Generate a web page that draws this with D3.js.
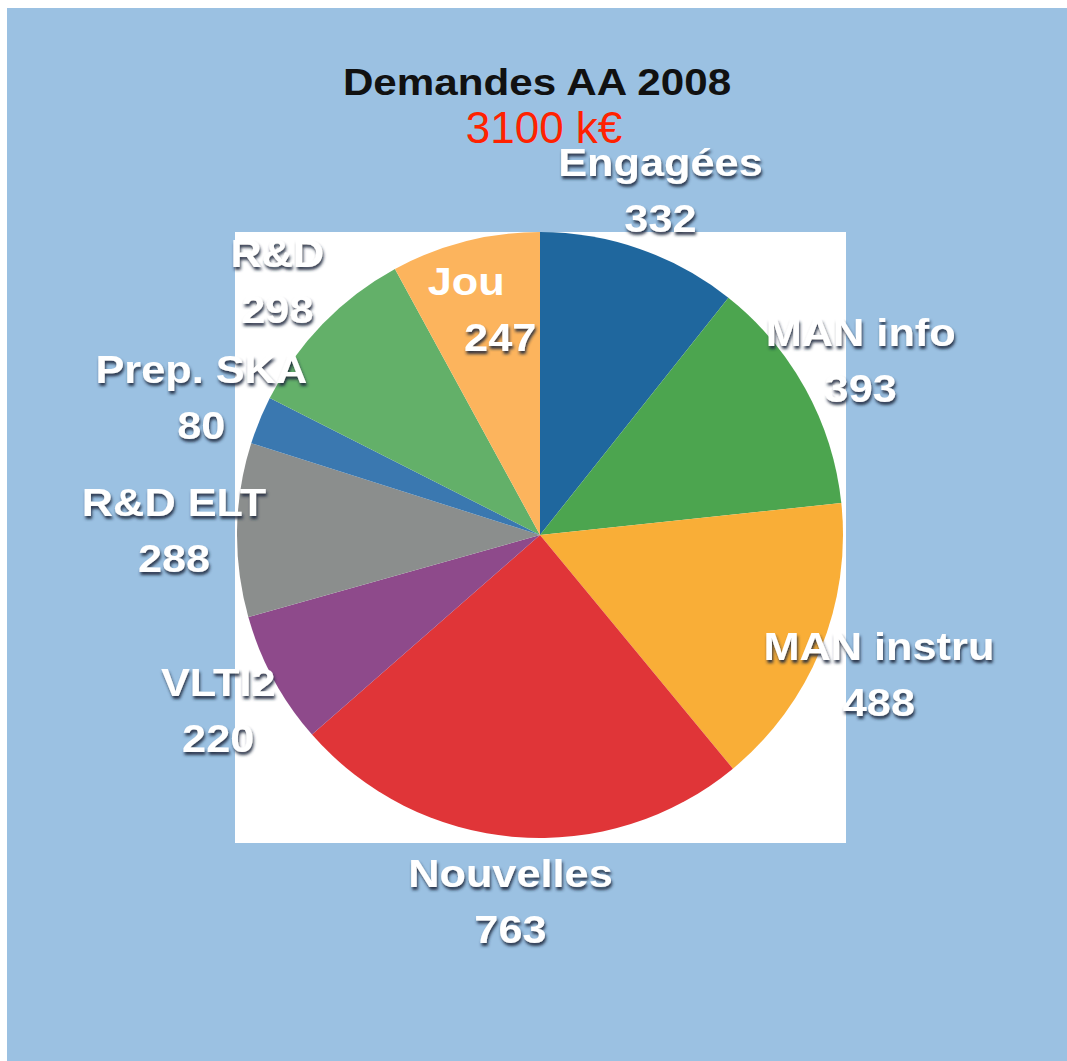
<!doctype html>
<html lang="fr">
<head>
  <meta charset="utf-8">
  <title>Demandes AA 2008</title>
  <script src="https://cdn.jsdelivr.net/npm/d3@7"></script>
  <style>
    body { margin: 0; background: #fff; }
    text { font-family: "Liberation Sans", Arial, Helvetica, sans-serif; }
  </style>
</head>
<body>
  <svg id="chart" width="1067" height="1061"></svg>
  <script>
    // data, clockwise from 12 o'clock
    const names = ["Engagées", "MAN info", "MAN instru", "Nouvelles", "VLTI2", "R&D ELT", "Prep. SKA", "R&D", "Jou"];
    const amounts = [332, 393, 488, 763, 220, 288, 80, 298, 247];
    const sliceColors = ["#1f679e", "#4ca54f", "#f9ae37", "#e03538", "#8e4a8b", "#8b8e8d", "#3a78b0", "#63b069", "#fcb45d"];
    const title = "Demandes AA 2008";
    const subtitle = "3100 k€";
    const insideLabels = ["Jou"]; // this one sits inside its slice

    const W = 1067, H = 1061;
    const cx = 540, cy = 535, radius = 303;
    const stretch = 1.14; // the source font is wide

    const svg = d3.select("#chart");

    // drop shadow for the white labels
    const f = svg.append("defs").append("filter").attr("id", "shadow")
      .attr("x", "-20%").attr("y", "-30%").attr("width", "140%").attr("height", "170%");
    f.append("feDropShadow").attr("dx", 1).attr("dy", 3).attr("stdDeviation", 1.6)
      .attr("flood-color", "#1b2a3c").attr("flood-opacity", 0.9);

    svg.append("rect").attr("x", 7).attr("y", 8).attr("width", W - 7).attr("height", H - 8)
      .attr("fill", "#9bc1e2");

    // white square behind the pie
    svg.append("rect")
      .attr("x", cx - radius - 2).attr("y", cy - radius)
      .attr("width", 2 * radius + 5).attr("height", 2 * radius + 5)
      .attr("fill", "#fff");

    const data = names.map((n, i) => ({name: n, value: amounts[i], color: sliceColors[i]}));
    const pie = d3.pie().sort(null).value(d => d.value);
    const arcs = pie(data);

    const arc = d3.arc().innerRadius(0).outerRadius(radius);
    const outerLabel = d3.arc().innerRadius(366).outerRadius(366);
    const innerLabel = d3.arc().innerRadius(234).outerRadius(234);

    const g = svg.append("g").attr("transform", `translate(${cx},${cy})`);
    g.selectAll("path").data(arcs).enter().append("path")
      .attr("d", arc)
      .attr("fill", d => d.data.color);

    const isInside = d => insideLabels.includes(d.data.name);

    const labels = g.selectAll("g.lab").data(arcs).enter().append("g")
      .attr("class", "lab")
      .attr("transform", d => {
        const p = (isInside(d) ? innerLabel : outerLabel).centroid(d);
        return `translate(${p[0]},${p[1]})`;
      });

    labels.append("text")
      .attr("transform", d => `translate(${isInside(d) ? -16 : 0},-13) scale(${stretch},1)`)
      .attr("text-anchor", "middle")
      .attr("font-size", 38).attr("font-weight", "bold")
      .attr("fill", "#fff")
      .attr("filter", d => isInside(d) ? null : "url(#shadow)")
      .text(d => d.data.name);

    labels.append("text")
      .attr("transform", d => `translate(${isInside(d) ? 18 : 0},43) scale(${stretch},1)`)
      .attr("text-anchor", "middle")
      .attr("font-size", 38).attr("font-weight", "bold")
      .attr("fill", "#fff")
      .attr("filter", "url(#shadow)")
      .text(d => d.data.value);

    svg.append("text")
      .attr("transform", `translate(537,95) scale(${stretch},1)`)
      .attr("text-anchor", "middle")
      .attr("font-size", 37).attr("font-weight", "bold")
      .attr("fill", "#111")
      .text(title);

    svg.append("text")
      .attr("transform", "translate(544,143)")
      .attr("text-anchor", "middle")
      .attr("font-size", 44)
      .attr("fill", "#ff2200")
      .text(subtitle);
  </script>
</body>
</html>
